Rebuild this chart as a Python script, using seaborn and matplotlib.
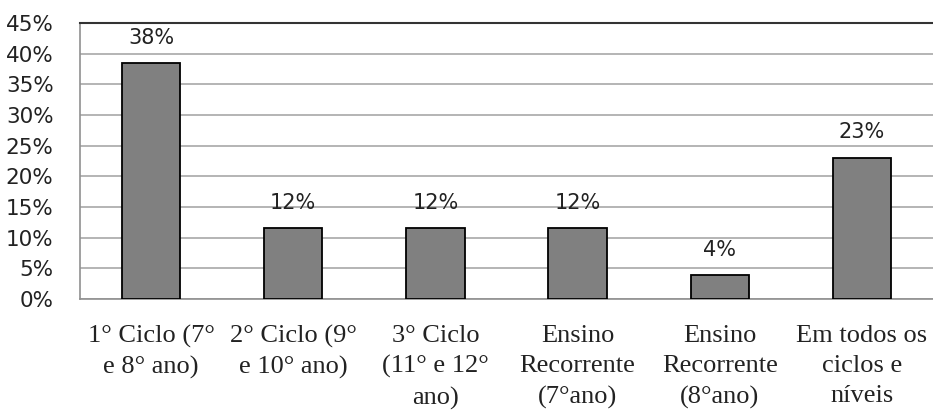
import matplotlib
matplotlib.use("Agg")
import matplotlib.pyplot as plt
import seaborn as sns
import pandas as pd

# category labels and shares (26 answers in total)
categories = [
    "1° Ciclo (7°\ne 8° ano)",
    "2° Ciclo (9°\ne 10° ano)",
    "3° Ciclo\n(11° e 12°\nano)",
    "Ensino\nRecorrente\n(7°ano)",
    "Ensino\nRecorrente\n(8°ano)",
    "Em todos os\nciclos e\nníveis",
]
shares = [38.46, 11.54, 11.54, 11.54, 3.85, 23.08]
bar_labels = ["38%", "12%", "12%", "12%", "4%", "23%"]
y_ticks = [0, 5, 10, 15, 20, 25, 30, 35, 40, 45]

df = pd.DataFrame({"cat": categories, "share": shares})

sns.set_style("white")
plt.rcParams["font.family"] = ["Liberation Serif", "DejaVu Serif"]
sans = ["DejaVu Sans"]

fig = plt.figure(figsize=(9.33, 4.12), dpi=100)
ax = fig.add_axes([0.0857, 0.274, 0.9143, 0.670])

sns.barplot(data=df, x="cat", y="share", color="#808080", width=0.41,
            edgecolor="black", linewidth=1.3, saturation=1, ax=ax, zorder=3)

for i, (v, lab) in enumerate(zip(shares, bar_labels)):
    ax.annotate(lab, (i, v), xytext=(0, 11), textcoords="offset points",
                ha="center", va="bottom", fontsize=15, color="#222222",
                family=sans)

ax.set_ylim(0, 45)
ax.set_xlim(-0.5, 5.5)
ax.set_yticks(y_ticks)
ax.set_yticklabels([f"{t}%" for t in y_ticks], fontsize=15.5, color="#222222",
                   family=sans)
ax.yaxis.grid(True, color="#a8a8a8", linewidth=1.2, zorder=0)
ax.set_axisbelow(True)

ax.set_xticks(range(len(categories)))
ax.set_xticklabels(categories, fontsize=19, color="#222222", linespacing=1.48)
ax.set_xticks([i - 0.5 for i in range(len(categories) + 1)], minor=True)
ax.tick_params(axis="x", which="major", length=0, pad=18.5)
ax.tick_params(axis="x", which="minor", length=6, width=1.2, color="#909090", direction="out")
ax.tick_params(axis="y", length=9, width=1.2, color="#909090", direction="out", pad=10)

ax.set_xlabel("")
ax.set_ylabel("")
for side in ["left", "bottom"]:
    ax.spines[side].set_color("#909090")
    ax.spines[side].set_linewidth(1.2)
ax.spines["top"].set_color("#333333")
ax.spines["top"].set_linewidth(1.5)
ax.spines["right"].set_visible(False)

fig.savefig("out.png", dpi=100)
